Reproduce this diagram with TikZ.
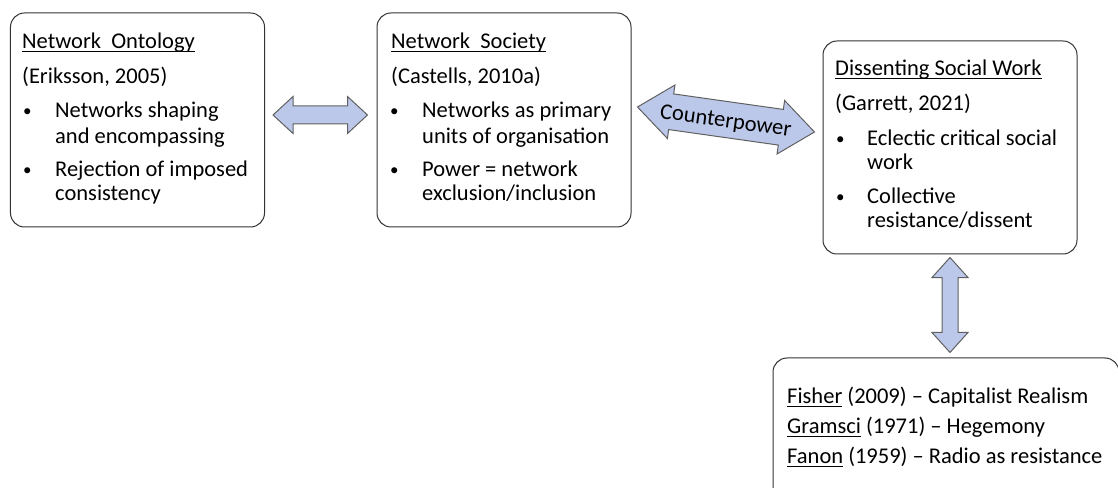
\documentclass[tikz,border=0pt]{standalone}
\usepackage{fontspec}
\setmainfont{Carlito}
\usetikzlibrary{calc}
\definecolor{arrowfill}{RGB}{188,200,233}
\definecolor{arrowlight}{RGB}{218,225,245}
\definecolor{arrowline}{RGB}{96,96,96}
\definecolor{boxline}{RGB}{50,50,50}
\newcommand\myul[1]{\setbox0\hbox{#1}\rlap{\rule[-3.4bp]{\wd0}{0.9bp}}#1}
\newcommand\mybul{{\fontsize{17bp}{20bp}\selectfont •}}
\newcommand\blockarrow[5]{%
  \draw[blockarrowstyle] (#1)
    -- ($(#1)!#3!(#2)!#4!90:(#2)$) -- ($(#1)!#3!(#2)!#5!90:(#2)$)
    -- ($(#2)!#3!(#1)!#5!-90:(#1)$) -- ($(#2)!#3!(#1)!#4!-90:(#1)$)
    -- (#2)
    -- ($(#2)!#3!(#1)!#4!90:(#1)$) -- ($(#2)!#3!(#1)!#5!90:(#1)$)
    -- ($(#1)!#3!(#2)!#5!-90:(#2)$) -- ($(#1)!#3!(#2)!#4!-90:(#2)$)
    -- cycle;}
\tikzset{
  box/.style={draw=boxline, line width=1bp, rounded corners=14bp, inner sep=0pt},
  txt/.style={anchor=base west, inner sep=0pt, font=\fontsize{22.5bp}{26bp}\selectfont},
  blockarrowstyle/.style={draw=arrowline, line width=1bp, fill=arrowfill, line join=miter},
}
\begin{document}
\begin{tikzpicture}[x=1bp, y=-1bp]
\useasboundingbox (0,0) rectangle (1118,488);
% boxes
\node[box, minimum width=254bp, minimum height=214bp] (b1) at (137.5,120) {};
\node[box, minimum width=254bp, minimum height=214bp] (b2) at (504,120) {};
\node[box, minimum width=254bp, minimum height=213bp] (b3) at (950,147.5) {};
\node[box, minimum width=346bp, minimum height=142bp] (b4) at (946,429) {};
% box 1 text
\node[txt] (t1a) at (22,48.5) {\myul{Network\ \ Ontology}};
\node[txt] (t1b) at (22,83.5) {(Eriksson, 2005)};
\node[txt] (t1c) at (23,117) {\mybul};
\node[txt] (t1d) at (55,118) {Networks shaping};
\node[txt] (t1e) at (55,144) {and encompassing};
\node[txt] (t1f) at (23,176) {\mybul};
\node[txt] (t1g) at (55,177) {Rejection of imposed};
\node[txt] (t1h) at (55,201) {consistency};
% box 2 text
\node[txt] (t2a) at (391,48.5) {\myul{Network\ \ Society}};
\node[txt] (t2b) at (391,83.5) {(Castells, 2010a)};
\node[txt] (t2c) at (390,117) {\mybul};
\node[txt] (t2d) at (422,118) {Networks as primary};
\node[txt] (t2e) at (422,144) {units of organisation};
\node[txt] (t2f) at (390,176) {\mybul};
\node[txt] (t2g) at (422,177) {Power = network};
\node[txt] (t2h) at (422,201) {exclusion/inclusion};
% box 3 text
\node[txt] (t3a) at (835,76) {\myul{Dissenting Social Work}};
\node[txt] (t3b) at (835,111) {(Garrett, 2021)};
\node[txt] (t3c) at (836,144.5) {\mybul};
\node[txt] (t3d) at (867,145.5) {Eclectic critical social};
\node[txt] (t3e) at (867,169.5) {work};
\node[txt] (t3f) at (836,203) {\mybul};
\node[txt] (t3g) at (867,204) {Collective};
\node[txt] (t3h) at (867,228) {resistance/dissent};
% box 4 text
\node[txt] (t4a) at (787,403) {\myul{Fisher} (2009) – Capitalist Realism};
\node[txt] (t4b) at (787,433.5) {\myul{Gramsci} (1971) – Hegemony};
\node[txt] (t4c) at (787,463.5) {\myul{Fanon} (1959) – Radio as resistance};
% arrow ends
\coordinate (a1L) at ($(b1.east)+(8,-5)$);
\coordinate (a1R) at ($(b2.west)+(-9,-5)$);
\coordinate (cpL) at ($(b2.east)+(6,-13)$);
\coordinate (cpR) at ($(b3.west)+(-8,-15.5)$);
\coordinate (a3T) at ($(b3.south)+(0,3)$);
\coordinate (a3B) at ($(b3.south |- b4.north)+(0,-5)$);
% arrows
\blockarrow{a1L}{a1R}{20bp}{18.5bp}{9bp}
\blockarrow{cpL}{cpR}{34bp}{27bp}{18bp}
\blockarrow{a3T}{a3B}{20bp}{18bp}{8bp}
\node[inner sep=0pt, rotate=-8, yshift=-2.5bp, font=\fontsize{22.5bp}{26bp}\selectfont] (cp) at ($(cpL)!0.5!(cpR)$) {Counterpower};
\end{tikzpicture}
\end{document}
